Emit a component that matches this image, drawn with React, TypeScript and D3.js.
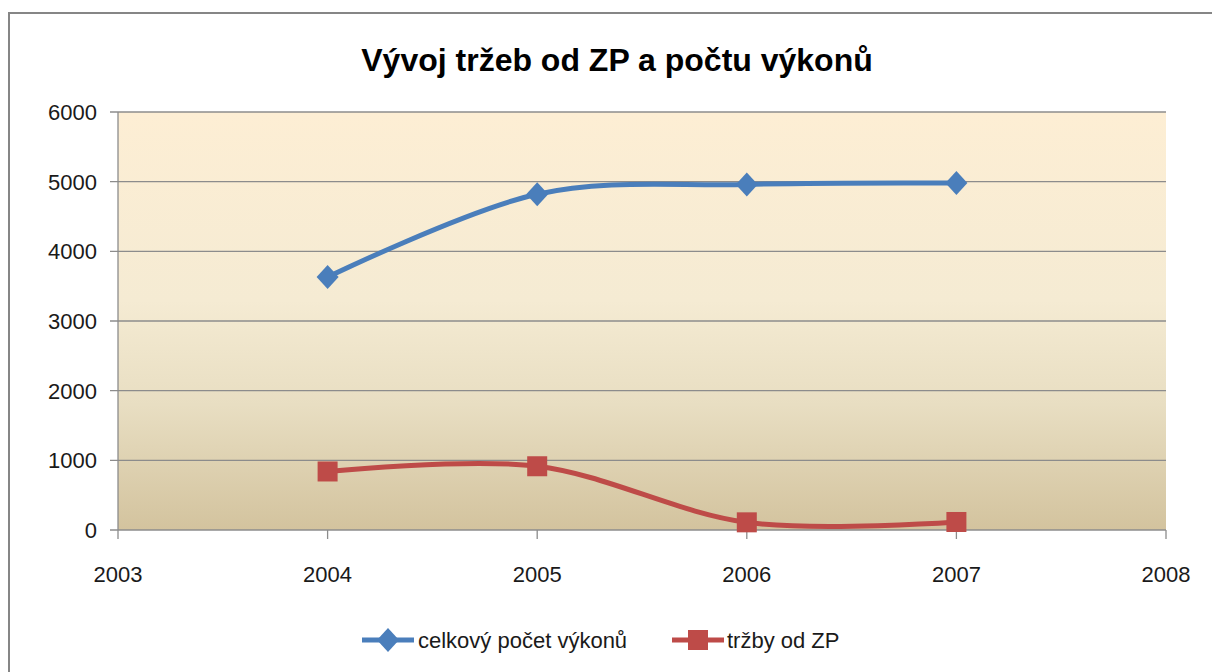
import React from 'react'
import * as d3 from 'd3'

const years = [2004, 2005, 2006, 2007]
const vykony = [3630, 4820, 4960, 4980]
const trzby = [840, 915, 110, 115]
const yTicks = [0, 1000, 2000, 3000, 4000, 5000, 6000]
const xTicks = [2003, 2004, 2005, 2006, 2007, 2008]
const seriesNames = ['celkový počet výkonů', 'tržby od ZP']

const W = 1212
const H = 672
const font = "'Liberation Sans', Arial, sans-serif"
const blue = '#4A7EBB'
const red = '#BE4B48'

function Diamond({ x, y }: { x: number; y: number }) {
  return <path d={`M${x},${y - 12}L${x + 11},${y}L${x},${y + 12}L${x - 11},${y}Z`} fill={blue} />
}

function Square({ x, y }: { x: number; y: number }) {
  return <rect x={x - 10} y={y - 10} width={20} height={20} fill={red} />
}

export default function App() {
  const x = d3.scaleLinear().domain([2003, 2008]).range([118, 1166])
  const y = d3.scaleLinear().domain([0, 6000]).range([530, 112])

  const line = d3.line<number>()
    .x((d, i) => x(years[i]))
    .y((d) => y(d))
    .curve(d3.curveCatmullRom.alpha(0))

  return (
    <svg width={W} height={H} style={{ position: 'absolute', left: 0, top: 0 }}>
      <defs>
        <linearGradient id="bg" x1="0" y1="0" x2="0" y2="1">
          <stop offset="0%" stopColor="#FDEED4" />
          <stop offset="45%" stopColor="#F5EBD3" />
          <stop offset="70%" stopColor="#E8DEC2" />
          <stop offset="100%" stopColor="#D3C39E" />
        </linearGradient>
      </defs>
      <rect x={0} y={0} width={W} height={H} fill="#fff" />
      <path d={`M9,${H}V13H${W}`} fill="none" stroke="#868686" strokeWidth={2} />

      <text x={617} y={71} textAnchor="middle" fontFamily={font} fontWeight="bold" fontSize={32} fill="#000">
        Vývoj tržeb od ZP a počtu výkonů
      </text>

      <rect x={x(2003)} y={y(6000)} width={x(2008) - x(2003)} height={y(0) - y(6000)} fill="url(#bg)" />

      {yTicks.map((t) => (
        <g key={t}>
          <line x1={x(2003) - 8} x2={x(2008)} y1={y(t)} y2={y(t)} stroke="#8C8C8C" strokeWidth={1.3} />
          <text x={97} y={y(t)} dy="0.36em" textAnchor="end" fontFamily={font} fontSize={22} fill="#1a1a1a">
            {t}
          </text>
        </g>
      ))}
      <line x1={x(2003)} x2={x(2003)} y1={y(6000)} y2={y(0)} stroke="#8C8C8C" strokeWidth={1.3} />
      {xTicks.map((t) => (
        <g key={t}>
          <line x1={x(t)} x2={x(t)} y1={y(0)} y2={y(0) + 9} stroke="#8C8C8C" strokeWidth={1.3} />
          <text x={x(t)} y={582} textAnchor="middle" fontFamily={font} fontSize={22} fill="#1a1a1a">
            {t}
          </text>
        </g>
      ))}

      <path d={line(vykony) || ''} fill="none" stroke={blue} strokeWidth={5} />
      {vykony.map((v, i) => <Diamond key={i} x={x(years[i])} y={y(v)} />)}
      <path d={line(trzby) || ''} fill="none" stroke={red} strokeWidth={5} />
      {trzby.map((v, i) => <Square key={i} x={x(years[i])} y={y(v)} />)}

      <g>
        <line x1={362} x2={414} y1={640} y2={640} stroke={blue} strokeWidth={5} />
        <Diamond x={388} y={640} />
        <text x={418} y={640} dy="0.36em" fontFamily={font} fontSize={22} fill="#1a1a1a">{seriesNames[0]}</text>
        <line x1={672} x2={724} y1={640} y2={640} stroke={red} strokeWidth={5} />
        <Square x={698} y={640} />
        <text x={727} y={640} dy="0.36em" fontFamily={font} fontSize={22} fill="#1a1a1a">{seriesNames[1]}</text>
      </g>
    </svg>
  )
}
